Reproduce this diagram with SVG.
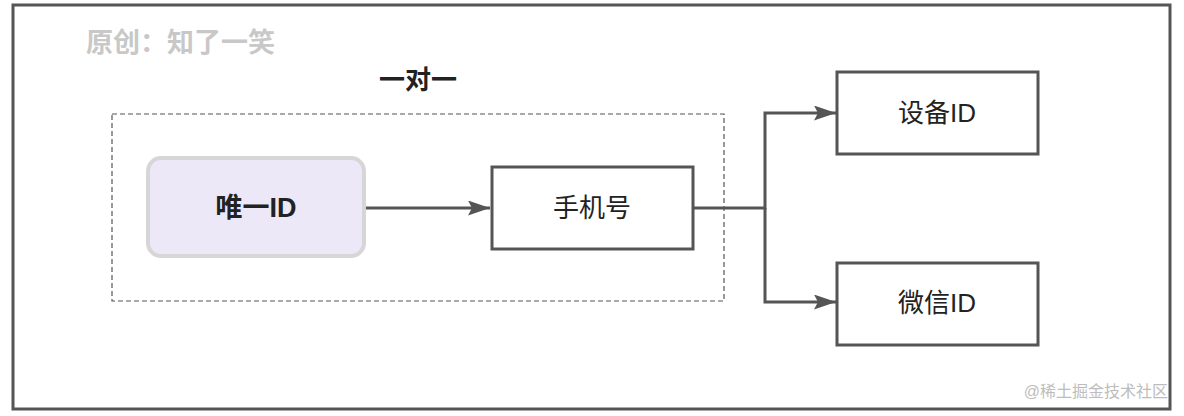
<svg xmlns="http://www.w3.org/2000/svg" width="1184" height="416" viewBox="0 0 1184 416">
<style>
.t{font-family:"Liberation Sans","Noto Sans CJK SC",sans-serif;fill:#222;text-anchor:middle;dominant-baseline:central}
.box{fill:#fff;stroke:#555;stroke-width:3}
.ln{fill:none;stroke:#555;stroke-width:3}
</style>
<defs>
<marker id="ah" viewBox="0 0 22 15" refX="22" refY="7.5" markerWidth="22" markerHeight="15" markerUnits="userSpaceOnUse" orient="auto">
<path d="M0,0 L22,7.5 L0,15 L4,7.5 Z" fill="#555"/>
</marker>
</defs>
<rect x="0" y="0" width="1184" height="416" fill="#fff"/>
<rect x="13" y="5" width="1157" height="404" fill="none" stroke="#555" stroke-width="3"/>
<text x="86" y="43" class="t" style="text-anchor:start;fill:#c8c8c8;font-weight:bold;font-size:27px">原创：知了一笑</text>
<g id="group">
<rect x="112" y="114" width="612" height="187" fill="none" stroke="#555" stroke-width="1.2" stroke-dasharray="5,3"/>
<text x="418" y="80" class="t" style="font-weight:bold;font-size:26px">一对一</text>
</g>
<g id="connectors">
<line x1="366" y1="208" x2="490" y2="208" class="ln" marker-end="url(#ah)"/>
<polyline points="694,208 765,208 765,113 836,113" class="ln" marker-end="url(#ah)"/>
<polyline points="765,208 765,302 836,302" class="ln" marker-end="url(#ah)"/>
</g>
<g id="n-uid">
<rect x="148" y="158" width="216" height="98" rx="13" fill="#ece8f8" stroke="#d6d6d6" stroke-width="4"/>
<text x="256" y="208" class="t" style="font-weight:bold;font-size:27px">唯一ID</text>
</g>
<g id="n-phone">
<rect x="492" y="167" width="201" height="82" class="box"/>
<text x="592" y="208" class="t" style="font-size:26px">手机号</text>
</g>
<g id="n-device">
<rect x="837" y="72" width="201" height="82" class="box"/>
<text x="937" y="113" class="t" style="font-size:26px">设备ID</text>
</g>
<g id="n-wechat">
<rect x="837" y="263" width="201" height="82" class="box"/>
<text x="937" y="303" class="t" style="font-size:26px">微信ID</text>
</g>
<text x="1168" y="391" class="t" style="text-anchor:end;fill:#bdbdbd;font-size:16px">@稀土掘金技术社区</text>
</svg>
